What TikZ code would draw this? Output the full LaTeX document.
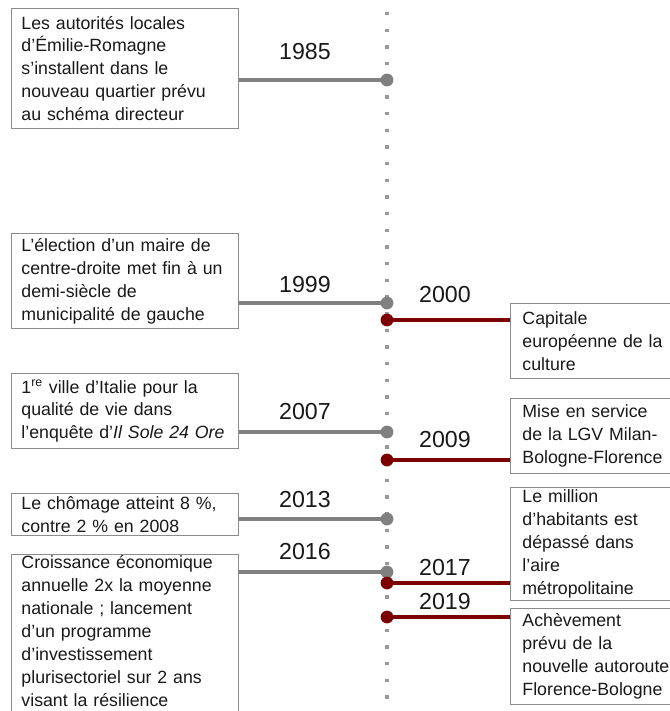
\documentclass[tikz,border=0pt]{standalone}
\usepackage{fontspec}
\setmainfont{Liberation Sans}
\usetikzlibrary{positioning}
\definecolor{tlgray}{RGB}{128,128,128}
\definecolor{tlred}{RGB}{125,0,0}
\definecolor{tlline}{RGB}{140,140,140}
\begin{document}
\begin{tikzpicture}[x=0.75pt,y=-0.75pt,
      every node/.style={font=\fontsize{13.3}{17.2}\selectfont,text=black!90},
      evbox/.style={draw=tlline,line width=0.7pt,fill=white,align=left,text width=155pt,
                    inner xsep=7.5pt,inner ysep=0pt,anchor=north west},
      rbox/.style={evbox,text width=150pt,inner xsep=9pt},
      yr/.style={font=\fontsize{17.4}{20}\selectfont},
      glink/.style={draw=tlgray,line width=3pt},
      rlink/.style={draw=tlred,line width=3pt}]
    \clip (0,0) rectangle (670,711);
    \fill[white] (0,0) rectangle (670,711);
    % time axis
    \coordinate (axtop) at (387,12);
    \coordinate (axbot) at (387,711);
    \draw[tlgray!80,line width=2.4pt,dash pattern=on 2.4pt off 10.1pt] (axtop)--(axbot);
    % events on the left
    \node[evbox,minimum height=90pt] (b85) at (11,8)
      {Les autorités locales\\d’Émilie-Romagne\\s’installent dans le\\nouveau quartier prévu\\au schéma directeur};
    \node[evbox,minimum height=71.25pt] (b99) at (11,233)
      {L’élection d’un maire de\\centre-droite met fin à un\\demi-siècle de\\municipalité de gauche};
    \node[evbox,minimum height=56.25pt] (b07) at (11,373)
      {1\textsuperscript{re} ville d’Italie pour la\\qualité de vie dans\\l’enquête d’\textit{Il Sole 24 Ore}};
    \node[evbox,minimum height=31.5pt] (b13) at (11,493)
      {Le chômage atteint 8 \%,\\contre 2 \% en 2008};
    \node[evbox,inner ysep=0.8pt] (b16) at (11,554)
      {Croissance économique\\annuelle 2x la moyenne\\nationale ; lancement\\d’un programme\\d’investissement\\plurisectoriel sur 2 ans\\visant la résilience\rule[-15pt]{0pt}{0pt}};
    % events on the right
    \node[rbox,minimum height=56.25pt] (b00) at (510,303)
      {Capitale\\européenne de la\\culture};
    \node[rbox,minimum height=56.25pt] (b09) at (510,398)
      {Mise en service\\de la LGV Milan-\\Bologne-Florence};
    \node[rbox,minimum height=84.75pt] (b17) at (510,487)
      {Le million\\d’habitants est\\dépassé dans\\l’aire\\métropolitaine};
    \node[rbox,minimum height=72pt] (b19) at (510,608)
      {Achèvement\\prévu de la\\nouvelle autoroute\\Florence-Bologne};
    % dots
    \coordinate (d85) at (387,80);
    \coordinate (d99) at (387,303);
    \coordinate (d07) at (387,432);
    \coordinate (d13) at (387,519);
    \coordinate (d16) at (387,572);
    \coordinate (d00) at (387,320);
    \coordinate (d09) at (387,460);
    \coordinate (d17) at (387,583);
    \coordinate (d19) at (387,617);
    % links
    \draw[glink] (d85)--(d85 -| b85.east);
    \draw[glink] (d99)--(d99 -| b99.east);
    \draw[glink] (d07)--(d07 -| b07.east);
    \draw[glink] (d13)--(d13 -| b13.east);
    \draw[glink] (d16)--(d16 -| b16.east);
    \draw[rlink] (d00)--(d00 -| b00.west);
    \draw[rlink] (d09)--(d09 -| b09.west);
    \draw[rlink] (d17)--(d17 -| b17.west);
    \draw[rlink] (d19)--(d19 -| b19.west);
    \foreach \d in {d85,d99,d07,d13,d16} \fill[tlgray] (\d) circle (4.8pt);
    \foreach \d in {d00,d09,d17,d19} \fill[tlred] (\d) circle (4.8pt);
    % years
    \node[yr] (y85) at (305,52) {1985};
    \node[yr] (y99) at (305,285) {1999};
    \node[yr] (y07) at (305,412) {2007};
    \node[yr] (y13) at (305,500) {2013};
    \node[yr] (y16) at (305,552) {2016};
    \node[yr] (y00) at (445,295) {2000};
    \node[yr] (y09) at (445,440) {2009};
    \node[yr] (y17) at (445,568) {2017};
    \node[yr] (y19) at (445,602) {2019};
  \end{tikzpicture}
\end{document}
